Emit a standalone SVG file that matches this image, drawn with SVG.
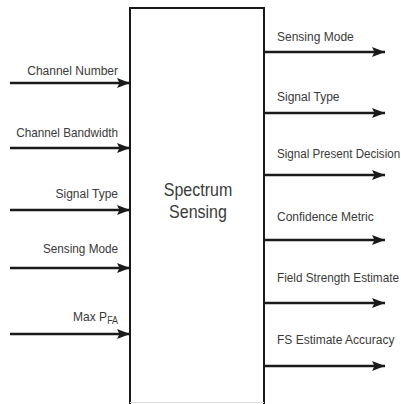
<svg xmlns="http://www.w3.org/2000/svg" width="401" height="404" viewBox="0 0 401 404">
<style>
.lbl{font-family:"Liberation Sans",Arial,sans-serif;font-size:13.5px;fill:#3a3a3a}
.l{text-anchor:end}
.ttl{font-family:"Liberation Sans",Arial,sans-serif;font-size:18px;fill:#3a3a3a;text-anchor:middle}
.ar{stroke:#1a1a1a;stroke-width:2.5;fill:none;marker-end:url(#ah)}
</style>
<defs>
<marker id="ah" markerUnits="userSpaceOnUse" markerWidth="13" markerHeight="10" refX="13" refY="5" orient="auto">
<path d="M0,0 L13,5 L0,10 L2.5,5 Z" fill="#1a1a1a"/>
</marker>
</defs>
<rect width="401" height="404" fill="#ffffff"/>
<g id="spectrum-sensing">
<path d="M130,404 V8 H264 V404" fill="none" stroke="#1a1a1a" stroke-width="2"/>
<line x1="130" y1="402.5" x2="264" y2="402.5" stroke="#dddddd" stroke-width="1"/>
<text class="ttl" transform="translate(198,196) scale(0.89,1)">Spectrum</text>
<text class="ttl" transform="translate(198,218) scale(0.89,1)">Sensing</text>
</g>
<g id="connectors">
<line class="ar" x1="10" y1="83" x2="130" y2="83"/>
<line class="ar" x1="10" y1="148" x2="130" y2="148"/>
<line class="ar" x1="10" y1="210" x2="130" y2="210"/>
<line class="ar" x1="10" y1="268" x2="130" y2="268"/>
<line class="ar" x1="10" y1="334" x2="130" y2="334"/>
<line class="ar" x1="264" y1="52" x2="385" y2="52"/>
<line class="ar" x1="264" y1="113" x2="385" y2="113"/>
<line class="ar" x1="264" y1="175" x2="385" y2="175"/>
<line class="ar" x1="264" y1="240" x2="385" y2="240"/>
<line class="ar" x1="264" y1="303" x2="385" y2="303"/>
<line class="ar" x1="264" y1="366" x2="385" y2="366"/>
</g>
<g id="inputs">
<text class="lbl l" transform="translate(118,75) scale(0.89,1)">Channel Number</text>
<text class="lbl l" transform="translate(118,137) scale(0.87,1)">Channel Bandwidth</text>
<text class="lbl l" transform="translate(118,198) scale(0.89,1)">Signal Type</text>
<text class="lbl l" transform="translate(118,253) scale(0.87,1)">Sensing Mode</text>
<text class="lbl l" transform="translate(118,321) scale(0.89,1)">Max P<tspan font-size="10" dy="3">FA</tspan></text>
</g>
<g id="outputs">
<text class="lbl" transform="translate(277,41) scale(0.89,1)">Sensing Mode</text>
<text class="lbl" transform="translate(277,101) scale(0.89,1)">Signal Type</text>
<text class="lbl" transform="translate(277,158) scale(0.86,1)">Signal Present Decision</text>
<text class="lbl" transform="translate(277,221) scale(0.89,1)">Confidence Metric</text>
<text class="lbl" transform="translate(277,282) scale(0.87,1)">Field Strength Estimate</text>
<text class="lbl" transform="translate(277,344) scale(0.89,1)">FS Estimate Accuracy</text>
</g>
</svg>
